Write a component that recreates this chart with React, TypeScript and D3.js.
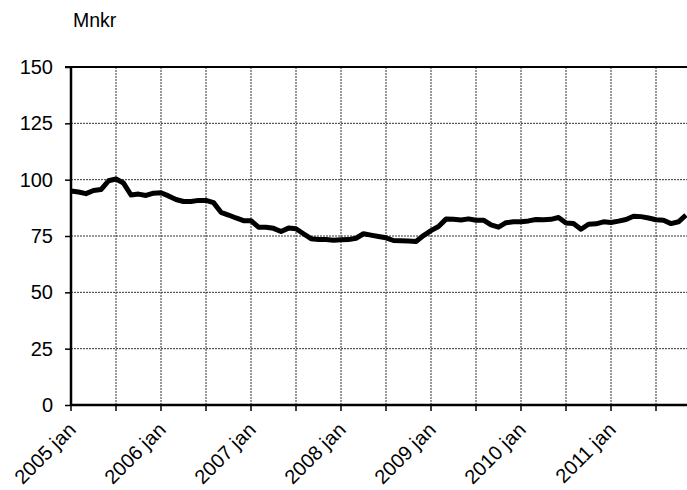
import * as d3 from 'd3';
import { useEffect, useRef } from 'react';

// Monthly values, 2005 jan .. 2011 nov (Mnkr)
const values = [
  95, 94.5, 93.8, 95.2, 95.6, 99.5, 100.3, 98.5, 93.2, 93.6, 93.0, 94.0,
  94.2, 92.8, 91.2, 90.3, 90.3, 90.8, 90.8, 89.8, 85.5, 84.3, 83.0, 81.8,
  81.8, 78.9, 78.9, 78.4, 77.0, 78.5, 78.2, 76.0, 73.8, 73.4, 73.4, 73.1,
  73.3, 73.4, 74.0, 76.0, 75.4, 74.8, 74.2, 73.0, 72.9, 72.8, 72.6, 75.2,
  77.4, 79.2, 82.5, 82.4, 82.1, 82.6, 82.0, 82.0, 79.9, 78.9, 80.9, 81.3,
  81.3, 81.7, 82.3, 82.2, 82.4, 83.2, 80.8, 80.5, 78.0, 80.2, 80.4, 81.3,
  81.0, 81.6, 82.3, 83.8, 83.6, 83.0, 82.2, 82.0, 80.5, 81.3, 84.3,
];
const yTicks = [0, 25, 50, 75, 100, 125, 150];
const yearLabels = ['2005 jan', '2006 jan', '2007 jan', '2008 jan', '2009 jan', '2010 jan', '2011 jan'];
const unitLabel = 'Mnkr';

export default function App() {
  const svgRef = useRef<SVGSVGElement>(null);

  useEffect(() => {
    if (!svgRef.current) return;
    const W = 687;
    const H = 490;
    const left = 71;
    const top = 67;
    const bottom = 405;

    const svg = d3.select(svgRef.current);
    svg.selectAll('*').remove();
    svg.attr('width', W).attr('height', H);

    // 7.5px per month; the plot runs past the right edge and gets cut off
    const x = d3.scaleLinear().domain([0, 84]).range([left, left + 84 * 7.5]);
    const y = d3.scaleLinear().domain([0, 150]).range([bottom, top]);

    const font = '"Liberation Sans", Arial, sans-serif';

    // gridlines
    const halfYears = d3.range(1, 14).map((i) => i * 6);
    svg.append('g')
      .selectAll('line')
      .data(halfYears)
      .join('line')
      .attr('x1', (d) => x(d))
      .attr('x2', (d) => x(d))
      .attr('y1', top)
      .attr('y2', bottom)
      .attr('stroke', '#333')
      .attr('stroke-width', 1)
      .attr('stroke-dasharray', '2,1');

    svg.append('g')
      .selectAll('line')
      .data(yTicks.slice(1, -1))
      .join('line')
      .attr('x1', left)
      .attr('x2', W)
      .attr('y1', (d) => y(d))
      .attr('y2', (d) => y(d))
      .attr('stroke', '#333')
      .attr('stroke-width', 1)
      .attr('stroke-dasharray', '2,1');

    // y axis
    const yAxis = svg.append('g')
      .attr('transform', `translate(${left},0)`)
      .call(d3.axisLeft(y).tickValues(yTicks).tickSize(6).tickPadding(12));
    yAxis.select('.domain').remove();
    yAxis.selectAll('.tick line').attr('stroke', '#000').attr('stroke-width', 1.5);
    yAxis.selectAll('.tick text')
      .style('font-family', font)
      .style('font-size', '20px')
      .attr('fill', '#000');

    // x ticks
    svg.append('g')
      .selectAll('line')
      .data(d3.range(0, 14).map((i) => i * 6))
      .join('line')
      .attr('x1', (d) => x(d))
      .attr('x2', (d) => x(d))
      .attr('y1', bottom)
      .attr('y2', bottom + 6)
      .attr('stroke', '#000')
      .attr('stroke-width', 1.5);

    // frame
    svg.append('line').attr('x1', left).attr('x2', left).attr('y1', top).attr('y2', bottom)
      .attr('stroke', '#000').attr('stroke-width', 2.5);
    svg.append('line').attr('x1', left).attr('x2', W).attr('y1', bottom).attr('y2', bottom)
      .attr('stroke', '#000').attr('stroke-width', 2.5);
    svg.append('line').attr('x1', left - 6).attr('x2', W).attr('y1', top).attr('y2', top)
      .attr('stroke', '#000').attr('stroke-width', 2);

    // x labels, rotated
    svg.append('g')
      .selectAll('text')
      .data(yearLabels)
      .join('text')
      .attr('transform', (_, i) => `translate(${x(i * 12) + 6},${bottom + 26}) rotate(-45)`)
      .attr('text-anchor', 'end')
      .style('font-family', font)
      .style('font-size', '20px')
      .text((d) => d);

    // line
    const line = d3.line<number>()
      .x((_, i) => x(i))
      .y((d) => y(d));
    svg.append('path')
      .datum(values)
      .attr('d', line)
      .attr('fill', 'none')
      .attr('stroke', '#000')
      .attr('stroke-width', 5)
      .attr('stroke-linejoin', 'round');

    svg.append('text')
      .attr('x', 73)
      .attr('y', 27)
      .style('font-family', font)
      .style('font-size', '19.5px')
      .text(unitLabel);
  }, []);

  return (
    <div style={{ position: 'absolute', left: 0, top: 0 }}>
      <svg ref={svgRef} />
    </div>
  );
}
